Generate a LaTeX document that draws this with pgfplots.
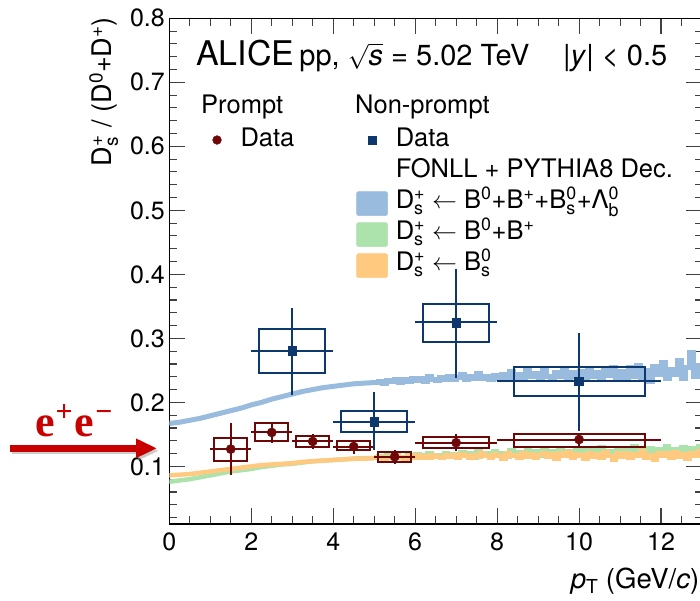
\documentclass[border=0pt]{standalone}
\usepackage{amsmath}
\usepackage{fontspec}
\setmainfont{TeX Gyre Heros}
\newfontfamily\eefont{Liberation Serif}
\usepackage{pgfplots}
\pgfplotsset{compat=1.18}
\usetikzlibrary{arrows.meta}
\newcommand\fs[1]{\fontsize{#1}{#1}\selectfont}
\definecolor{promptc}{RGB}{110,8,8}
\definecolor{npc}{RGB}{12,56,110}
\definecolor{bandblue}{RGB}{153,188,222}
\definecolor{bandgreen}{RGB}{172,226,172}
\definecolor{bandorange}{RGB}{255,201,128}
\definecolor{eered}{RGB}{200,0,0}
\begin{document}
\begin{tikzpicture}
\begin{axis}[name=ax, scale only axis, width=532.7pt, height=505.7pt,
  xmin=0, xmax=13, ymin=0.01, ymax=0.8,
  xtick={0,2,4,6,8,10,12},
  minor xtick={0.5,1,1.5,2.5,3,3.5,4.5,5,5.5,6.5,7,7.5,8.5,9,9.5,10.5,11,11.5,12.5},
  ytick={0.1,0.2,0.3,0.4,0.5,0.6,0.7,0.8},
  minor ytick={0.02,0.04,0.06,0.08,0.12,0.14,0.16,0.18,0.22,0.24,0.26,0.28,0.32,0.34,0.36,0.38,0.42,0.44,0.46,0.48,0.52,0.54,0.56,0.58,0.62,0.64,0.66,0.68,0.72,0.74,0.76,0.78},
  xtick pos=both, ytick pos=both, tick align=inside,
  major tick length=15.7pt, minor tick length=7.5pt,
  tick style={black!75, line width=1.1pt},
  axis line style={black, line width=1.1pt},
  /pgf/number format/assume math mode=true,
  tick label style={font=\fs{25}},
  yticklabel style={/pgf/number format/fixed, /pgf/number format/fixed zerofill, /pgf/number format/precision=1, inner sep=0pt, xshift=-4.3pt},
  xticklabel style={inner sep=0pt, yshift=-9pt},
  xlabel={\textit{p}$_{\text{T}}$ (GeV/\textit{c})},
  ylabel={D$^{\text{+}}_{\text{s}}$ / (D$^{\text{0}}$+D$^{\text{+}}$)},
  xlabel style={at={([shift={(-2.5pt,-64.3pt)}]rel axis cs:1,0)}, anchor=base east, inner sep=0pt, font=\fs{27.5}},
  ylabel style={at={([shift={(-57.6pt,1.3pt)}]rel axis cs:0,1)}, anchor=base east, inner sep=0pt, font=\fs{27}},
  legend columns=2,
  legend style={at={(0.0605,0.7858)}, anchor=north west, draw=none, fill=none,
    inner sep=0pt, outer sep=0pt, font=\fs{25.5}, column sep=8pt, row sep=3pt,
    cells={anchor=base west},
    nodes={inner sep=0pt, text height=20pt, text depth=8pt}},
  unbounded coords=jump, filter discard warning=false,
]
% ---- FONLL + PYTHIA8 bands ----
\addplot[forget plot, bandblue, line width=5pt] coordinates {
(0,0.167)(0.25,0.169)(0.5,0.172)(0.75,0.175)(1,0.179)(1.25,0.183)(1.5,0.187)(1.75,0.191)(2,0.196)(2.25,0.200)(2.5,0.205)(2.75,0.209)(3,0.213)(3.25,0.217)(3.5,0.220)(3.75,0.223)(4,0.225)(4.25,0.227)(4.5,0.229)(4.75,0.230)(5,0.231)};
\addplot[forget plot, const plot, bandblue, line width=5pt] coordinates {
(5.0,.231)(5.1,.233)(5.2,.230)(5.3,.234)(5.4,.232)(5.5,.236)(5.6,.231)(5.7,.235)(5.8,.233)(5.9,.237)
(6.0,.234)(6.1,.238)(6.2,.233)(6.3,.240)(6.4,.236)(6.5,.234)(6.6,.239)(6.7,.236)(6.8,.241)(6.9,.235)
(7.0,.239)(7.1,.244)(7.2,.236)(7.3,.241)(7.4,.238)(7.5,.245)(7.6,.237)(7.7,.240)(7.8,.236)(7.9,.242)
(8.0,.238)(8.1,.244)(8.2,.237)(8.3,.248)(8.4,.239)(8.5,.243)(8.6,.236)(8.7,.250)(8.8,.240)(8.9,.245)
(9.0,.238)(9.1,.251)(9.2,.241)(9.3,.236)(9.4,.247)(9.5,.240)(9.6,.252)(9.7,.237)(9.8,.246)(9.9,.241)
(10.0,.249)(10.1,.236)(10.2,.253)(10.3,.240)(10.4,.246)(10.5,.235)(10.6,.251)(10.7,.242)(10.8,.255)(10.9,.238)
(11.0,.248)(11.1,.236)(11.2,.254)(11.3,.241)(11.4,.258)(11.5,.239)(11.6,.250)(11.7,.233)(11.8,.256)(11.9,.244)
(12.0,.262)(12.1,.237)(12.2,.251)(12.3,.243)(12.4,.266)(12.5,.238)(12.6,.255)(12.7,.278)(12.8,.240)(12.9,.258)(13.0,.246)};
\addplot[forget plot, bandgreen, line width=4.5pt] coordinates {
(0,0.076)(0.25,0.078)(0.5,0.080)(0.75,0.083)(1,0.086)(1.25,0.089)(1.5,0.092)(1.75,0.094)(2,0.096)(2.25,0.099)(2.5,0.101)(2.75,0.103)(3,0.104)(3.25,0.106)(3.5,0.108)(3.75,0.109)(4,0.110)(4.25,0.111)(4.5,0.112)(4.75,0.113)(5,0.113)};
\addplot[forget plot, const plot, bandgreen, line width=4.5pt] coordinates {
(5.0,.114)(5.1,.116)(5.2,.113)(5.3,.117)(5.4,.114)(5.5,.118)(5.6,.115)(5.7,.113)(5.8,.118)(5.9,.115)
(6.0,.119)(6.1,.114)(6.2,.117)(6.3,.121)(6.4,.115)(6.5,.118)(6.6,.114)(6.7,.120)(6.8,.116)(6.9,.119)
(7.0,.115)(7.1,.122)(7.2,.117)(7.3,.120)(7.4,.114)(7.5,.123)(7.6,.118)(7.7,.121)(7.8,.116)(7.9,.124)
(8.0,.118)(8.1,.121)(8.2,.115)(8.3,.125)(8.4,.119)(8.5,.122)(8.6,.116)(8.7,.126)(8.8,.118)(8.9,.123)
(9.0,.117)(9.1,.127)(9.2,.120)(9.3,.124)(9.4,.116)(9.5,.128)(9.6,.119)(9.7,.123)(9.8,.117)(9.9,.126)
(10.0,.121)(10.1,.129)(10.2,.118)(10.3,.125)(10.4,.120)(10.5,.130)(10.6,.117)(10.7,.124)(10.8,.121)(10.9,.128)
(11.0,.118)(11.1,.126)(11.2,.122)(11.3,.131)(11.4,.117)(11.5,.125)(11.6,.120)(11.7,.129)(11.8,.116)(11.9,.127)
(12.0,.121)(12.1,.132)(12.2,.118)(12.3,.126)(12.4,.122)(12.5,.130)(12.6,.117)(12.7,.128)(12.8,.123)(12.9,.131)(13.0,.120)};
\addplot[forget plot, bandorange, line width=4.5pt] coordinates {
(0,0.086)(0.25,0.087)(0.5,0.088)(0.75,0.090)(1,0.092)(1.25,0.094)(1.5,0.096)(1.75,0.098)(2,0.100)(2.25,0.102)(2.5,0.103)(2.75,0.104)(3,0.105)(3.25,0.107)(3.5,0.108)(3.75,0.109)(4,0.110)(4.25,0.111)(4.5,0.112)(4.75,0.112)(5,0.113)};
\addplot[forget plot, const plot, bandorange, line width=4.5pt] coordinates {
(5.0,.113)(5.1,.114)(5.2,.112)(5.3,.115)(5.4,.113)(5.5,.116)(5.6,.114)(5.7,.112)(5.8,.116)(5.9,.114)
(6.0,.117)(6.1,.113)(6.2,.116)(6.3,.114)(6.4,.118)(6.5,.115)(6.6,.113)(6.7,.118)(6.8,.115)(6.9,.117)
(7.0,.114)(7.1,.119)(7.2,.116)(7.3,.113)(7.4,.118)(7.5,.115)(7.6,.120)(7.7,.116)(7.8,.114)(7.9,.119)
(8.0,.116)(8.1,.112)(8.2,.120)(8.3,.116)(8.4,.118)(8.5,.114)(8.6,.121)(8.7,.115)(8.8,.119)(8.9,.113)
(9.0,.118)(9.1,.121)(9.2,.115)(9.3,.119)(9.4,.112)(9.5,.120)(9.6,.116)(9.7,.122)(9.8,.114)(9.9,.119)
(10.0,.117)(10.1,.112)(10.2,.121)(10.3,.115)(10.4,.119)(10.5,.113)(10.6,.122)(10.7,.116)(10.8,.110)(10.9,.120)
(11.0,.115)(11.1,.121)(11.2,.113)(11.3,.119)(11.4,.116)(11.5,.123)(11.6,.114)(11.7,.118)(11.8,.111)(11.9,.121)
(12.0,.116)(12.1,.120)(12.2,.113)(12.3,.122)(12.4,.115)(12.5,.119)(12.6,.112)(12.7,.121)(12.8,.117)(12.9,.123)(13.0,.116)};
% ---- systematic boxes ----
\addplot[forget plot, promptc, line width=2pt, line cap=rect] coordinates {
(1.1,0.109)(1.9,0.109)(1.9,0.144)(1.1,0.144)(1.1,0.109)(1.1,nan)
(2.1,0.139)(2.9,0.139)(2.9,0.167)(2.1,0.167)(2.1,0.139)(2.1,nan)
(3.1,0.130)(3.9,0.130)(3.9,0.148)(3.1,0.148)(3.1,0.130)(3.1,nan)
(4.1,0.125)(4.9,0.125)(4.9,0.140)(4.1,0.140)(4.1,0.125)(4.1,nan)
(5.1,0.107)(5.9,0.107)(5.9,0.123)(5.1,0.123)(5.1,0.107)(5.1,nan)
(6.2,0.128)(7.8,0.128)(7.8,0.146)(6.2,0.146)(6.2,0.128)(6.2,nan)
(8.4,0.131)(11.6,0.131)(11.6,0.151)(8.4,0.151)(8.4,0.131)};
\addplot[forget plot, npc, line width=2pt, line cap=rect] coordinates {
(2.2,0.246)(3.8,0.246)(3.8,0.315)(2.2,0.315)(2.2,0.246)(2.2,nan)
(4.2,0.153)(5.8,0.153)(5.8,0.186)(4.2,0.186)(4.2,0.153)(4.2,nan)
(6.2,0.294)(7.8,0.294)(7.8,0.354)(6.2,0.354)(6.2,0.294)(6.2,nan)
(8.4,0.210)(11.6,0.210)(11.6,0.255)(8.4,0.255)(8.4,0.210)};
% ---- data with statistical errors ----
\addplot[forget plot, only marks, mark=*, mark size=4.6pt, color=promptc,
  mark options={fill=promptc, draw=promptc},
  error bars/.cd, x dir=both, x explicit, y dir=both, y explicit, error mark=none,
  error bar style={line width=2pt, promptc}] coordinates {
(1.5,0.127) +- (0.5,0.040)
(2.5,0.153) +- (0.5,0.017)
(3.5,0.139) +- (0.5,0.012)
(4.5,0.131) +- (0.5,0.011)
(5.5,0.115) +- (0.5,0.011)
(7.0,0.137) +- (1.0,0.013)
(10.0,0.142) +- (2.0,0.010)};
\addplot[forget plot, only marks, mark=square*, mark size=4.4pt, color=npc,
  mark options={fill=npc, draw=npc},
  error bars/.cd, x dir=both, x explicit, y dir=both, y explicit, error mark=none,
  error bar style={line width=2pt, npc}] coordinates {
(3,0.281) += (1,0.067) -= (1,0.069)
(5,0.170) += (1,0.046) -= (1,0.045)
(7,0.325) += (1,0.083) -= (1,0.087)
(10,0.233) += (2,0.075) -= (2,0.077)};
% ---- legend ----
\addlegendimage{legend image code/.code={\path[draw=none,fill=none] (0pt,0pt) rectangle (31pt,6pt); \fill[promptc] (15.5pt,6.6pt) circle (4.4pt);}}
\addlegendentry{Data\hspace*{54pt}\null}
\addlegendimage{legend image code/.code={\path[draw=none,fill=none] (0pt,0pt) rectangle (31pt,6pt); \fill[npc] (11.3pt,2.4pt) rectangle (19.7pt,10.8pt);}}
\addlegendentry{Data}
\addlegendimage{legend image code/.code={}}
\addlegendentry{\phantom{x}}
\addlegendimage{legend image code/.code={\path[draw=none,fill=none] (0pt,0pt) rectangle (31pt,6pt);}}
\addlegendentry{FONLL + PYTHIA8 Dec.}
\addlegendimage{legend image code/.code={}}
\addlegendentry{\phantom{x}}
\addlegendimage{legend image code/.code={\fill[bandblue, rounded corners=2pt] (0pt,-7pt) rectangle (31pt,17pt);}}
\addlegendentry{D$^{\text{+}}_{\text{s}}$ $\leftarrow$ B$^{\text{0}}$+B$^{\text{+}}$+B$^{\text{0}}_{\text{s}}$+Λ$^{\text{0}}_{\text{b}}$}
\addlegendimage{legend image code/.code={}}
\addlegendentry{\phantom{x}}
\addlegendimage{legend image code/.code={\fill[bandgreen, rounded corners=2pt] (0pt,-7pt) rectangle (31pt,17pt);}}
\addlegendentry{D$^{\text{+}}_{\text{s}}$ $\leftarrow$ B$^{\text{0}}$+B$^{\text{+}}$}
\addlegendimage{legend image code/.code={}}
\addlegendentry{\phantom{x}}
\addlegendimage{legend image code/.code={\fill[bandorange, rounded corners=2pt] (0pt,-7pt) rectangle (31pt,17pt);}}
\addlegendentry{D$^{\text{+}}_{\text{s}}$ $\leftarrow$ B$^{\text{0}}_{\text{s}}$}
% ---- texts ----
\node[anchor=base west, inner sep=0pt] at ([shift={(26.7pt,-47.2pt)}]rel axis cs:0,1)
  {\fs{34}ALICE\hspace{5pt}\fs{29}pp, $\sqrt{\textit{s}}$ = 5.02 TeV};
\node[anchor=base west, inner sep=0pt] at ([shift={(393.7pt,-47.2pt)}]rel axis cs:0,1)
  {\fs{29}|\textit{y}| < 0.5};
\node[anchor=base west, inner sep=0pt] at ([shift={(31.7pt,-95.7pt)}]rel axis cs:0,1)
  {\fs{25.5}Prompt};
\node[anchor=base west, inner sep=0pt] at ([shift={(185.7pt,-95.7pt)}]rel axis cs:0,1)
  {\fs{25.5}Non-prompt};
\end{axis}
% ---- e+e- reference arrow ----
\begin{scope}[shift={(ax.south west)}]
  \draw[line width=6.5pt, black!40, opacity=0.5, -{Triangle[length=21pt,width=18pt]}] (-157.3pt,73.2pt) -- (-10.3pt,73.2pt);
  \draw[line width=6.5pt, eered, -{Triangle[length=21pt,width=18pt]}] (-159.3pt,75.7pt) -- (-12.3pt,75.7pt);
  \node[anchor=base west, inner sep=0pt, text=eered] at (-134.3pt,87pt)
    {\eefont\bfseries\fs{44}e\kern1pt\raisebox{15pt}{\fs{30}+}\kern2pt e\kern1pt\raisebox{15pt}{\fs{30}−}};
\end{scope}
\pgfresetboundingbox
\path ([shift={(-169.3pt,-77pt)}]ax.south west) rectangle ++(700pt,601pt);
\end{tikzpicture}
\end{document}
